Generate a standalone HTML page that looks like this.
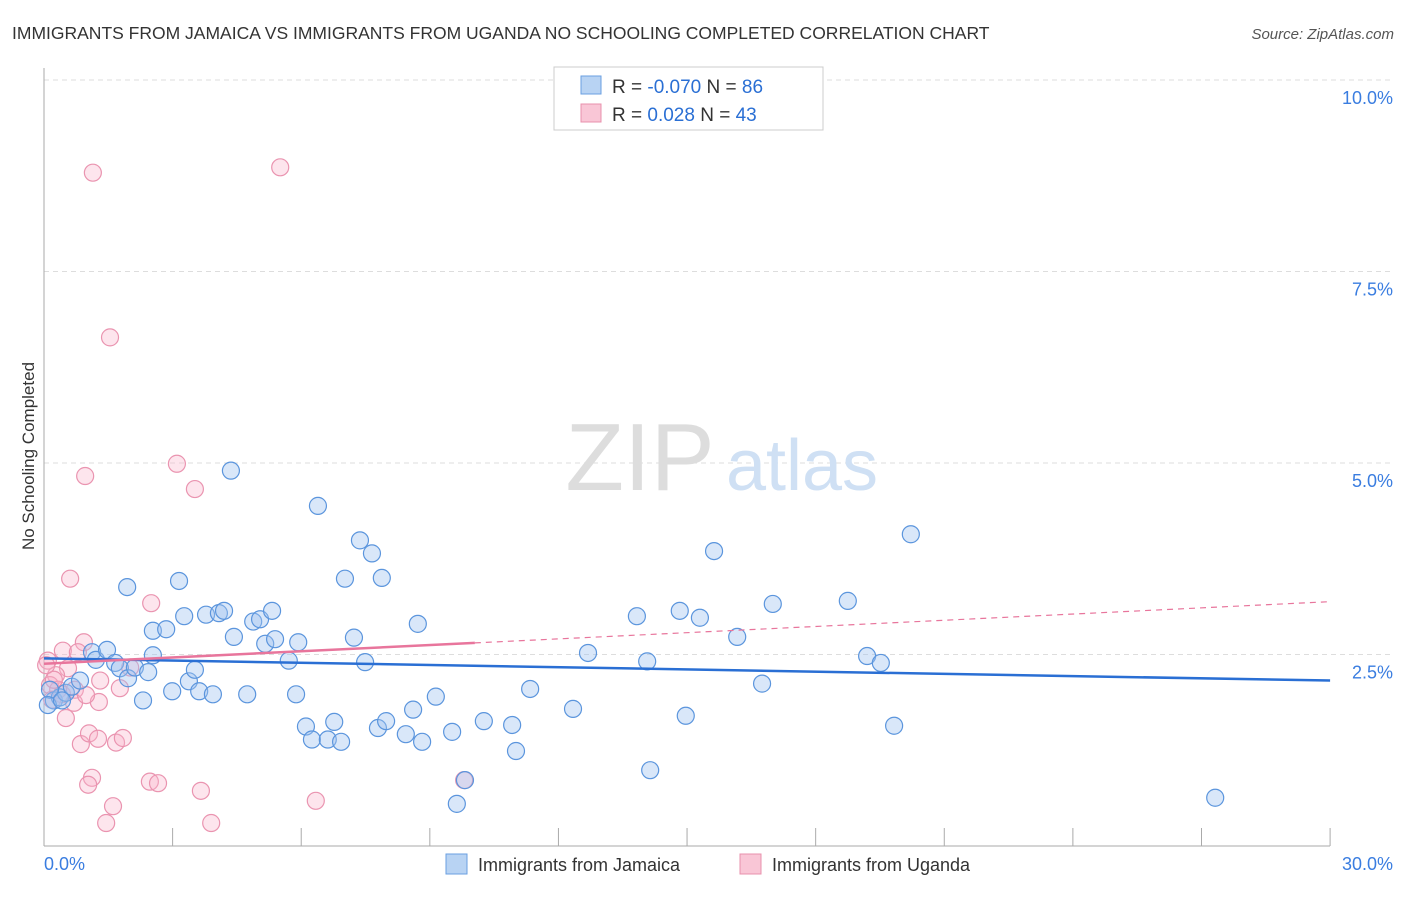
<!DOCTYPE html>
<html><head><meta charset="utf-8"><style>
body{margin:0;background:#fff;font-family:"Liberation Sans",sans-serif}
svg text{font-family:"Liberation Sans",sans-serif}
</style></head><body>
<svg id="chart" width="1406" height="892">
<text x="12" y="39" font-size="17.5" fill="#333">IMMIGRANTS FROM JAMAICA VS IMMIGRANTS FROM UGANDA NO SCHOOLING COMPLETED CORRELATION CHART</text>
<text x="1394" y="39" font-size="15" fill="#555" font-style="italic" text-anchor="end">Source: ZipAtlas.com</text>
<g id="grid"></g>
<text x="640" y="490" font-size="96" fill="#ddd" font-family="Liberation Serif" text-anchor="middle">ZIP</text>
<text x="802" y="490" font-size="72" fill="#cfe0f4" text-anchor="middle">atlas</text>
<g id="marks"></g>
<text transform="translate(34,456) rotate(-90)" font-size="17" fill="#333" text-anchor="middle">No Schooling Completed</text>
<g>
<rect x="554" y="67" width="269" height="63" fill="#fff" stroke="#ccc"/>
<rect x="581" y="76" width="20" height="18" fill="#b8d3f3" stroke="#6a9fe0"/>
<rect x="581" y="104" width="20" height="18" fill="#f9c6d6" stroke="#e890ac"/>
<text x="612" y="93" font-size="19" fill="#333">R = <tspan fill="#2a6fd4">-0.070</tspan>   N = <tspan fill="#2a6fd4">86</tspan></text>
<text x="612" y="121" font-size="19" fill="#333">R =   <tspan fill="#2a6fd4">0.028</tspan>   N = <tspan fill="#2a6fd4">43</tspan></text>
</g>
<g>
<rect x="446" y="854" width="21" height="20" fill="#b8d3f3" stroke="#6a9fe0"/>
<text x="478" y="871" font-size="18" fill="#333">Immigrants from Jamaica</text>
<rect x="740" y="854" width="21" height="20" fill="#f9c6d6" stroke="#e890ac"/>
<text x="772" y="871" font-size="18" fill="#333">Immigrants from Uganda</text>
</g>
</svg>
<script>
const yTicks=[2.5,5,7.5,10];
const yTickLabels=["2.5%","5.0%","7.5%","10.0%"];
const jamX=[0.23,0.37,0.51,0.65,0.84,1.12,1.21,1.47,1.66,1.77,1.96,2.12,2.31,2.43,2.54,1.94,2.54,2.85,2.99,3.15,3.27,3.38,3.52,3.62,3.78,3.94,4.08,4.2,4.43,4.36,4.74,4.88,5.04,5.16,5.32,5.39,5.71,5.88,5.93,6.11,6.25,6.39,6.62,6.77,6.93,7.02,7.23,7.37,7.49,7.65,7.79,7.88,7.98,8.44,8.61,8.72,8.82,9.14,9.52,9.63,9.82,10.26,10.92,11.01,11.34,12.34,12.69,13.83,14.14,14.07,14.83,14.97,15.3,15.63,16.17,16.75,17.0,18.75,19.2,19.52,19.83,20.22,27.32,0.14,0.09,0.42];
const jamY=[1.90,1.94,2.00,2.08,2.16,2.53,2.43,2.56,2.39,2.32,2.19,2.33,1.90,2.27,2.49,3.38,2.81,2.83,2.02,3.46,3.00,2.15,2.30,2.02,3.02,1.98,3.04,3.07,2.73,4.90,1.98,2.93,2.96,2.64,3.07,2.70,2.42,1.98,2.66,1.56,1.39,4.44,1.39,1.62,1.36,3.49,2.72,3.99,2.40,3.82,1.54,3.50,1.63,1.46,1.78,2.90,1.36,1.95,1.49,0.55,0.86,1.63,1.58,1.24,2.05,1.79,2.52,3.00,0.99,2.41,3.07,1.70,2.98,3.85,2.73,2.12,3.16,3.20,2.48,2.39,1.57,4.07,0.63,2.04,1.84,1.90];
const ugX=[1.14,5.51,1.54,0.96,3.1,3.52,0.61,2.5,0.93,0.44,0.79,0.09,0.56,0.28,0.14,0.33,0.42,0.72,1.31,1.77,1.28,0.7,0.51,0.86,1.05,1.26,1.68,1.84,1.12,1.03,1.61,2.47,2.66,3.66,1.45,3.9,6.34,9.8,2.01,0.19,0.23,0.05,0.98];
const ugY=[8.79,8.86,6.64,4.83,4.99,4.66,3.49,3.17,2.66,2.55,2.53,2.42,2.32,2.23,2.10,2.04,1.98,2.04,2.16,2.06,1.88,1.87,1.67,1.33,1.47,1.40,1.35,1.41,0.89,0.80,0.52,0.84,0.82,0.72,0.30,0.30,0.59,0.86,2.33,1.91,2.17,2.36,1.97];
const jamTrend=[2.45,2.16];const ugTrend=[2.38,3.19];const ugSolidEnd=10.05;
const X=v=>44+v*42.87, Y=v=>846-v*76.6;
const NS="http://www.w3.org/2000/svg";
const grid=document.getElementById('grid'), marks=document.getElementById('marks'), svg=document.getElementById('chart');
function mk(tag,attrs,parent){const e=document.createElementNS(NS,tag);for(const k in attrs)e.setAttribute(k,attrs[k]);parent.appendChild(e);return e;}
yTicks.forEach((t,i)=>{
 const l=mk('line',{x1:44,x2:1394,y1:Y(t),y2:Y(t),stroke:'#ddd','stroke-dasharray':'5,4'},grid);
 
 
 const tx=mk('text',{x:1393,y:Y(t)+24,'font-size':18,fill:'#3a7de0','text-anchor':'end'},grid);
 tx.textContent=yTickLabels[i];
 
 
});
const ax=mk('line',{x1:44,x2:44,y1:68,y2:846,stroke:'#aaa'},grid);


const bx=mk('line',{x1:44,x2:1330,y1:846,y2:846,stroke:'#aaa'},grid);


for(let k=0;k<=10;k++){const tk=mk('line',{x1:X(k*3),x2:X(k*3),y1:828,y2:846,stroke:'#aaa'},grid);
 
 }
const xl=mk('text',{x:44,y:870,'font-size':18,fill:'#3a7de0'},grid);xl.textContent='0.0%';


const xr=mk('text',{x:1393,y:870,'font-size':18,fill:'#3a7de0','text-anchor':'end'},grid);xr.textContent='30.0%';


ugX.forEach((v,i)=>{const c=mk('circle',{cx:X(v),cy:Y(ugY[i]),r:8.5,fill:'rgba(248,180,202,0.35)',stroke:'#ea94b0','stroke-width':1.2},marks);
 
 });
jamX.forEach((v,i)=>{const c=mk('circle',{cx:X(v),cy:Y(jamY[i]),r:8.5,fill:'rgba(160,196,240,0.4)',stroke:'#5b95dd','stroke-width':1.2},marks);
 
 });
const f=x=>ugTrend[0]+(ugTrend[1]-ugTrend[0])*x/30;
const jt=mk('line',{x1:X(0),y1:Y(jamTrend[0]),x2:X(30),y2:Y(jamTrend[1]),stroke:'#2a6fd4','stroke-width':2.5},marks);


const ud=mk('line',{x1:X(ugSolidEnd),y1:Y(f(ugSolidEnd)),x2:X(30),y2:Y(f(30)),stroke:'#e8759c','stroke-width':1.2,'stroke-dasharray':'6,5'},marks);


const us=mk('line',{x1:X(0),y1:Y(f(0)),x2:X(ugSolidEnd),y2:Y(f(ugSolidEnd)),stroke:'#e8759c','stroke-width':2.5},marks);


</script>
</body></html>
